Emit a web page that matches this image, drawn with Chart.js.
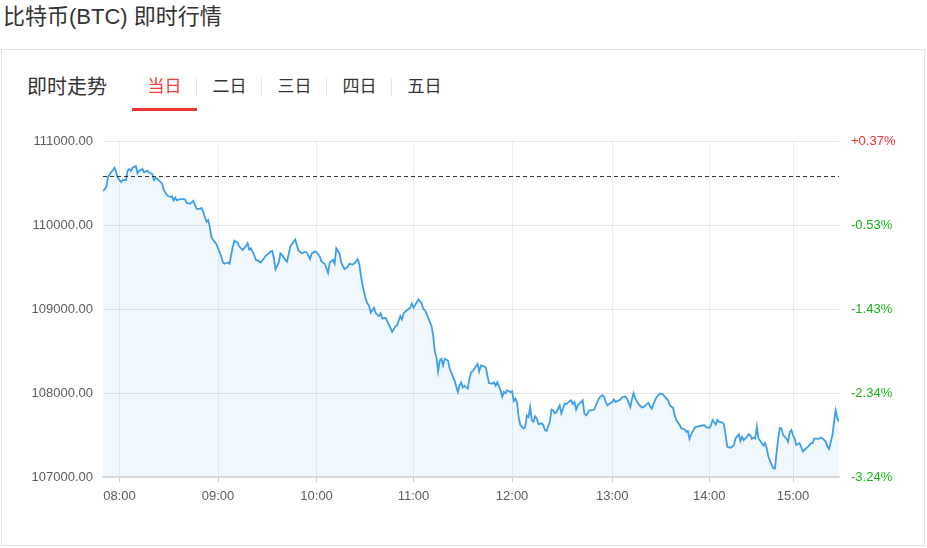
<!DOCTYPE html>
<html>
<head>
<meta charset="utf-8">
<script src="https://cdn.jsdelivr.net/npm/chart.js@4.4.0/dist/chart.umd.min.js"></script>
<style>
    body { margin: 0; background: #fff; font-family: Arial, "Liberation Sans", "Noto Sans CJK SC", sans-serif; color: #333; }
    #title { position: absolute; left: 3px; top: 5px; font-size: 22px; line-height: 24px; color: #333; white-space: nowrap; }
    #box { position: absolute; left: 1px; top: 49px; width: 922px; height: 495px; border: 1px solid #e3e3e3; }
    #live { position: absolute; left: 27px; top: 76px; font-size: 20px; line-height: 22px; color: #333; }
    .tab { position: absolute; top: 77px; width: 65px; text-align: center; font-size: 17px; line-height: 20px; color: #333; }
    .tab.sep::after { content: ""; position: absolute; right: 0; top: 1px; width: 1px; height: 18px; background: #e6e6e6; }
    .tab.on { color: #f23b3b; }
    #underline { position: absolute; left: 132px; top: 108px; width: 65px; height: 3px; background: #ee3333; }
    #wrap { position: absolute; left: 2px; top: 122px; width: 920px; height: 400px; }
</style>
</head>
<body>
<div id="title">比特币(BTC) 即时行情</div>
<div id="box"></div>
<div id="live">即时走势</div>
<div class="tab on sep" style="left:132px">当日</div>
<div class="tab sep" style="left:197px">二日</div>
<div class="tab sep" style="left:262px">三日</div>
<div class="tab sep" style="left:327px">四日</div>
<div class="tab" style="left:392px">五日</div>
<div id="underline"></div>
<div id="wrap"><canvas id="chart"></canvas></div>

<script>
// feed sequence number (one per minute, 07:50 start) and price
const seqNo = [
    0,2,3,5,6,7,8,9,11,12,
    14,15,16,17,18,20,21,22,24,25,
    27,28,30,31,32,34,36,37,39,41,
    42,43,44,45,47,49,50,51,53,55,
    56,57,59,60,61,63,64,65,66,67,
    69,70,72,73,74,76,77,79,80,82,
    83,85,87,88,89,90,92,93,94,96,
    98,99,101,102,103,104,105,107,108,109,
    111,112,114,115,117,118,119,121,123,124,
    126,127,129,130,132,133,135,137,138,140,
    141,142,144,145,147,149,150,152,153,155,
    156,157,158,160,161,162,163,165,166,168,
    169,170,172,173,175,176,178,179,181,182,
    183,185,187,188,189,191,192,194,195,196,
    198,200,201,202,203,204,205,206,207,208,
    210,211,212,214,216,217,218,219,220,222,
    223,224,225,226,228,229,230,231,233,234,
    235,237,238,239,240,242,243,244,245,246,
    248,249,250,251,252,253,254,256,257,258,
    259,260,261,262,263,264,265,267,268,269,
    270,272,273,274,275,276,278,279,280,281,
    282,284,285,286,287,288,289,291,292,293,
    294,295,296,297,299,300,301,302,304,305,
    306,307,308,310,311,312,313,315,316,318,
    319,321,322,323,324,326,328,329,331,332,
    333,334,336,337,339,341,342,344,345,347,
    348,349,351,352,354,355,356,357,358,360,
    361,362,364,366,367,369,370,371,373,374,
    375,377,378,379,380,382,383,384,385,387,
    388,389,390,392,393,394,395,396,397,398,
    399,401,402,403,404,405,407,408,409,410,
    411,412,413,414,416,417,418,419,420,421,
    422,424,425,426,427,429,430,431,432,433,
    435,436,437,438,440,441,442,443,444,445,
    446,447,448
];

const prices = [
    110410,110460,110580,110640,110660,110690,110640,110570,110520,110545,
    110540,110655,110675,110650,110690,110710,110625,110655,110675,110635,
    110655,110635,110615,110545,110570,110540,110500,110425,110360,110340,
    110350,110300,110335,110300,110315,110315,110310,110270,110260,110295,
    110245,110200,110200,110210,110165,110045,110065,109985,109865,109830,
    109780,109730,109630,109560,109545,109560,109545,109750,109820,109795,
    109750,109710,109755,109790,109715,109730,109650,109590,109585,109560,
    109610,109640,109670,109690,109700,109610,109480,109560,109670,109650,
    109590,109570,109750,109780,109835,109770,109700,109670,109685,109680,
    109600,109665,109690,109685,109630,109570,109545,109435,109560,109590,
    109545,109730,109665,109560,109480,109510,109545,109535,109550,109600,
    109545,109400,109285,109120,109070,109040,108960,109020,108955,108920,
    108955,108890,108900,108860,108780,108730,108800,108810,108920,108880,
    108955,108990,109020,109070,109020,109085,109120,109070,109005,108990,
    108900,108800,108685,108495,108425,108260,108390,108410,108330,108410,
    108390,108295,108245,108150,108015,108090,108130,108070,108090,108055,
    108165,108250,108260,108290,108350,108260,108330,108325,108310,108210,
    108120,108115,108130,108090,108130,108035,107955,108015,108000,108035,
    108015,108025,107905,107935,107895,107715,107620,107580,107600,107735,
    107715,107835,107680,107660,107725,107700,107630,107640,107620,107560,
    107550,107660,107805,107795,107760,107775,107855,107760,107815,107875,
    107870,107905,107915,107870,107895,107805,107855,107895,107915,107760,
    107735,107760,107795,107795,107805,107855,107895,107945,107975,107955,
    107895,107855,107870,107895,107925,107895,107905,107925,107955,107960,
    107935,107835,107935,108000,107935,107870,107830,107830,107870,107885,
    107845,107815,107915,107955,107995,107985,107955,107915,107855,107825,
    107735,107680,107620,107580,107570,107540,107550,107455,107510,107580,
    107600,107600,107610,107620,107595,107585,107610,107680,107625,107680,
    107660,107650,107625,107500,107360,107350,107360,107380,107460,107510,
    107430,107480,107440,107480,107510,107500,107455,107470,107460,107600,
    107460,107405,107375,107405,107345,107245,107145,107105,107100,107285,
    107460,107585,107580,107500,107460,107420,107535,107560,107500,107460,
    107380,107405,107360,107305,107325,107360,107380,107405,107405,107460,
    107455,107460,107470,107460,107420,107360,107335,107420,107500,107660,
    107795,107700,107660
];

const tickSeq = [10, 70, 130, 189, 249, 310, 369, 420];
const tickLabels = ["08:00", "09:00", "10:00", "11:00", "12:00", "13:00", "14:00", "15:00"];
const prevClose = 110586;
const seqMax = 448;
const yMin = 107000, yMax = 111000, yStep = 1000;

Chart.defaults.font.family = 'Arial, "Liberation Sans", sans-serif';
Chart.defaults.font.size = 13;
Chart.defaults.color = "#5c5c5c";

const ctx = document.getElementById("chart").getContext("2d");
new Chart(ctx, {
    type: "line",
    data: {
        datasets: [{
            data: [{ x: 0, y: prevClose }, { x: seqMax, y: prevClose }],
            borderColor: "#333",
            borderWidth: 1,
            borderDash: [4, 3],
            pointRadius: 0,
            fill: false,
            yAxisID: "y"
        }, {
            data: seqNo.map((s, i) => ({ x: s, y: prices[i] })),
            borderColor: "#3d9fe8",
            borderWidth: 1.8,
            pointRadius: 0,
            tension: 0,
            fill: "start",
            backgroundColor: "rgba(61,159,232,0.08)",
            yAxisID: "y"
        }]
    },
    options: {
        responsive: true,
        maintainAspectRatio: false,
        animation: false,
        devicePixelRatio: 1,
        layout: { padding: { top: 17, left: 0, right: 0, bottom: 0 } },
        plugins: { legend: { display: false }, tooltip: { enabled: false } },
        events: [],
        scales: {
            x: {
                type: "linear",
                min: 0,
                max: seqMax,
                afterBuildTicks: s => { s.ticks = tickSeq.map(v => ({ value: v })); },
                afterFit: s => { s.height = 45; },
                grid: { color: "#ededed", tickLength: 5, tickColor: "#ccc" },
                border: { color: "#dcdcdc", width: 2 },
                ticks: {
                    padding: 7,
                    maxRotation: 0,
                    autoSkip: false,
                    callback: (v, i) => tickLabels[i]
                }
            },
            y: {
                position: "left",
                min: yMin,
                max: yMax,
                afterFit: s => { s.width = 101; },
                grid: { color: "#e6e6e6", drawTicks: false },
                border: { display: false },
                ticks: {
                    stepSize: yStep,
                    padding: 10,
                    callback: v => v.toFixed(2)
                }
            },
            y2: {
                position: "right",
                min: yMin,
                max: yMax,
                afterFit: s => { s.width = 83; },
                grid: { display: false, drawTicks: false },
                border: { display: false },
                ticks: {
                    stepSize: yStep,
                    padding: 12,
                    color: c => (c.tick.value >= prevClose ? "#f23030" : "#16b316"),
                    callback: v => {
                        const p = (v / prevClose - 1) * 100;
                        return (p > 0 ? "+" : "") + p.toFixed(2) + "%";
                    }
                }
            }
        }
    }
});
</script>
</body>
</html>
